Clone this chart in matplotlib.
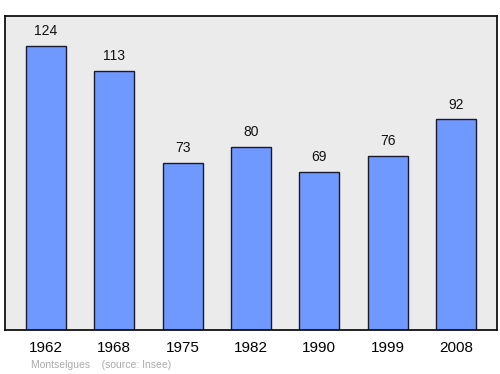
import matplotlib

matplotlib.use("Agg")
import matplotlib.pyplot as plt

plt.rcParams["font.family"] = ["Liberation Sans", "DejaVu Sans"]

years = ["1962", "1968", "1975", "1982", "1990", "1999", "2008"]
population = [124, 113, 73, 80, 69, 76, 92]
place = "Montselgues"
source = "(source: Insee)"

fig = plt.figure(figsize=(5, 3.74), dpi=100)
ax = fig.add_axes([0.01, 1 - 330 / 374, 0.984, 314 / 374])
ax.set_facecolor("#ebebeb")

x = range(len(years))
ax.bar(x, population, width=0.585, color="#7099ff", edgecolor="#1a1a2e", linewidth=1.0, zorder=2)
for xi, v in zip(x, population):
    ax.text(xi, v + 3.4, str(v), ha="center", va="bottom", fontsize=10, color="#111111")

ax.set_xlim(-0.6, len(years) - 0.4)
ax.set_ylim(0, 137.1)
ax.set_yticks([])
ax.set_xticks(list(x))
ax.set_xticklabels(years, fontsize=11)
ax.tick_params(axis="x", length=0, pad=8)
for s in ax.spines.values():
    s.set_linewidth(1.3)
    s.set_color("#111111")

fig.text(31 / 500, 1 - 365 / 374, place + "    " + source, fontsize=7.5, color="#aaaaaa", va="center")

fig.savefig("out.png", dpi=100)
